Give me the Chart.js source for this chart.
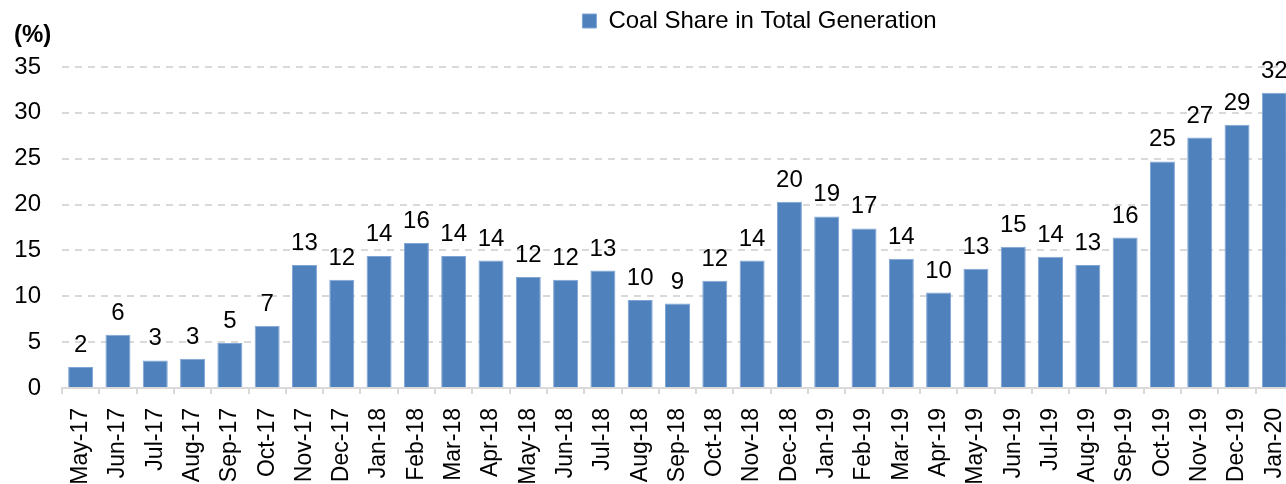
<!DOCTYPE html>
<html>
<head>
<meta charset="utf-8">
<script src="https://cdn.jsdelivr.net/npm/chart.js@4/dist/chart.umd.min.js"></script>
<style>
  html, body { margin: 0; padding: 0; background: #fff; overflow: hidden; }
  #wrap { width: 1293px; height: 484px; position: relative; }
</style>
</head>
<body>
<div id="wrap"><canvas id="coalChart"></canvas></div>
<script>
// Data grafik
const months = ['May-17', 'Jun-17', 'Jul-17', 'Aug-17', 'Sep-17', 'Oct-17', 'Nov-17', 'Dec-17',
  'Jan-18', 'Feb-18', 'Mar-18', 'Apr-18', 'May-18', 'Jun-18', 'Jul-18', 'Aug-18', 'Sep-18',
  'Oct-18', 'Nov-18', 'Dec-18', 'Jan-19', 'Feb-19', 'Mar-19', 'Apr-19', 'May-19', 'Jun-19',
  'Jul-19', 'Aug-19', 'Sep-19', 'Oct-19', 'Nov-19', 'Dec-19', 'Jan-20'];
const coalShare = [2.3, 5.8, 3.0, 3.2, 4.9, 6.8, 13.4, 11.8, 14.4, 15.8, 14.4, 13.9, 12.1, 11.8,
  12.8, 9.6, 9.2, 11.7, 13.9, 20.3, 18.7, 17.4, 14.1, 10.4, 13.0, 15.4, 14.3, 13.4, 16.4,
  24.7, 27.3, 28.7, 32.2];
const yTicks = [0, 5, 10, 15, 20, 25, 30, 35];

const FONT = 'Liberation Sans, Arial, sans-serif';

// Label nilai di atas batang
const valueLabels = {
    id: 'valueLabels',
    afterDatasetsDraw(chart) {
        const ctx = chart.ctx;
        const meta = chart.getDatasetMeta(0);
        ctx.save();
        ctx.font = '24px ' + FONT;
        ctx.fillStyle = '#000';
        ctx.textAlign = 'center';
        ctx.textBaseline = 'alphabetic';
        meta.data.forEach((bar, i) => {
            ctx.fillText(Math.round(coalShare[i]), bar.x, bar.y - 15);
        });
        ctx.restore();
    }
};

// Satuan sumbu Y "(%)"
const unitLabel = {
    id: 'unitLabel',
    afterDraw(chart) {
        const ctx = chart.ctx;
        ctx.save();
        ctx.font = 'bold 24px ' + FONT;
        ctx.fillStyle = '#000';
        ctx.textAlign = 'left';
        ctx.textBaseline = 'middle';
        ctx.fillText('(%)', chart.chartArea.left - 48, chart.chartArea.top - 32);
        ctx.restore();
    }
};

// Geser legenda ke kanan dan ke atas
const legendShift = {
    id: 'legendShift',
    afterLayout(chart) {
        chart.legend.left += 113;
        chart.legend.right += 113;
        chart.legend.top -= 24;
        chart.legend.bottom -= 24;
    }
};

const ctx = document.getElementById('coalChart').getContext('2d');
new Chart(ctx, {
    type: 'bar',
    data: {
        labels: months,
        datasets: [{
            label: 'Coal Share in Total Generation',
            data: coalShare,
            backgroundColor: '#4f81bd',
            borderColor: '#7fa5d6',
            borderWidth: 1,
            categoryPercentage: 1,
            barPercentage: 0.67
        }]
    },
    options: {
        responsive: true,
        maintainAspectRatio: false,
        animation: false,
        layout: { padding: { left: 0, right: 0, top: 23, bottom: 0 } },
        plugins: {
            legend: {
                display: true,
                position: 'top',
                align: 'center',
                labels: {
                    boxWidth: 14,
                    boxHeight: 14,
                    color: '#000',
                    font: { family: FONT, size: 24 },
                    padding: 10
                }
            },
            tooltip: { enabled: false }
        },
        scales: {
            x: {
                afterFit(scale) {
                    scale.height = 96;
                    scale.paddingLeft = 0;
                    scale.paddingRight = 0;
                },
                grid: {
                    display: true,
                    drawOnChartArea: false,
                    drawTicks: true,
                    tickLength: 6,
                    color: '#d9d9d9',
                    lineWidth: 2,
                    offset: true
                },
                border: { display: true, color: '#d9d9d9', width: 2 },
                ticks: {
                    color: '#000',
                    font: { family: FONT, size: 23 },
                    maxRotation: 90,
                    minRotation: 90,
                    autoSkip: false,
                    padding: 14
                }
            },
            y: {
                min: 0,
                max: 35,
                afterBuildTicks(scale) {
                    scale.ticks = yTicks.map(v => ({ value: v }));
                },
                afterFit(scale) {
                    scale.width = 62;
                },
                grid: {
                    color: (c) => c.tick.value === 0 ? 'rgba(0,0,0,0)' : '#d9d9d9',
                    lineWidth: 2,
                    drawTicks: false
                },
                border: { display: false, dash: [7, 6] },
                ticks: {
                    color: '#000',
                    font: { family: FONT, size: 24 },
                    padding: 21
                }
            }
        }
    },
    plugins: [valueLabels, unitLabel, legendShift]
});
</script>
</body>
</html>
